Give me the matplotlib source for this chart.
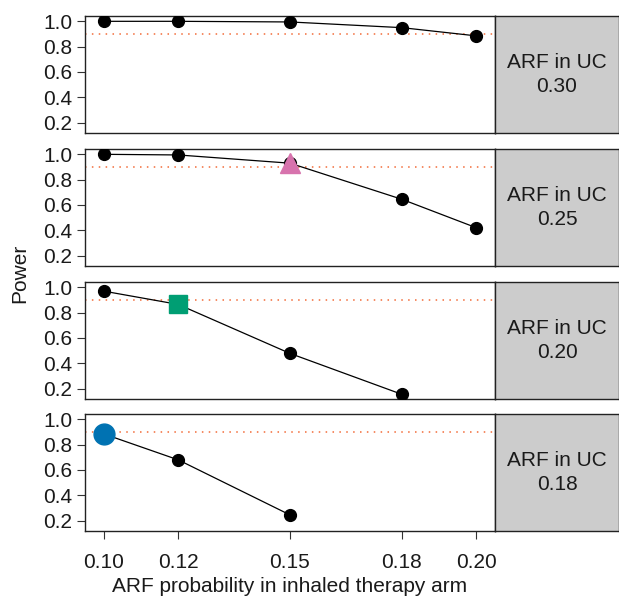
import numpy as np
import matplotlib
matplotlib.use('Agg')
import matplotlib.pyplot as plt

plt.rcParams['font.family'] = ['Liberation Sans', 'DejaVu Sans']

# ARF probability in inhaled therapy arm
x_vals = [0.10, 0.12, 0.15, 0.18, 0.20]
x_labels = ['0.10', '0.12', '0.15', '0.18', '0.20']

# ARF in usual care (one panel each) and estimated power
uc_labels = ['0.30', '0.25', '0.20', '0.18']
power_030 = [1.0, 1.0, 0.995, 0.95, 0.885]
power_025 = [1.0, 0.995, 0.93, 0.645, 0.42]
power_020 = [0.97, 0.865, 0.478, 0.155]
power_018 = [0.885, 0.68, 0.245]
powers = [power_030, power_025, power_020, power_018]

# highlighted point per panel: (index, marker, colour)
highlights = [None, (2, '^', '#D773AD'), (1, 's', '#009E73'), (0, 'o', '#0072B2')]
target = 0.9

W, H = 619, 599
fig = plt.figure(figsize=(W / 100, H / 100), dpi=100)

left, right_data, right_strip = 85, 495, 619
tops = [16, 149, 282, 414]
ph = 117
fs = 15

for i, top in enumerate(tops):
    y0 = (H - top - ph) / H
    ax = fig.add_axes([left / W, y0, (right_data - left) / W, ph / H])
    st = fig.add_axes([right_data / W, y0, (right_strip - right_data) / W, ph / H])

    xs = x_vals[:len(powers[i])]
    ax.axhline(target, color='#F26B38', ls=(0, (1, 3.5)), lw=1.1, zorder=1)
    ax.plot(xs, powers[i], color='black', lw=0.9, zorder=2)
    ax.plot(xs, powers[i], 'o', color='black', ms=8.5, zorder=3)
    if highlights[i] is not None:
        k, m, c = highlights[i]
        ms = {'^': 15, 's': 13, 'o': 15}[m]
        ax.plot(xs[k], powers[i][k], m, color=c, ms=ms, zorder=4)

    ax.set_xlim(0.095, 0.205)
    ax.set_ylim(0.118, 1.042)
    ax.set_yticks([0.2, 0.4, 0.6, 0.8, 1.0])
    ax.set_yticklabels(['0.2', '0.4', '0.6', '0.8', '1.0'], fontsize=fs, color='#1a1a1a')
    ax.tick_params(axis='y', length=6, width=0.8, color='#333333', pad=3)
    ax.set_xticks(x_vals)
    if i == len(tops) - 1:
        ax.set_xticklabels(x_labels, fontsize=fs, color='#1a1a1a')
        ax.tick_params(axis='x', length=6, width=0.8, color='#333333', pad=10)
    else:
        ax.tick_params(axis='x', length=0, labelbottom=False)
    for sp in ax.spines.values():
        sp.set_linewidth(1.0)
        sp.set_color('#222222')

    st.set_facecolor('#CCCCCC')
    st.set_xticks([])
    st.set_yticks([])
    for sp in st.spines.values():
        sp.set_linewidth(1.0)
        sp.set_color('#222222')
    st.text(0.5, 0.5, 'ARF in UC\n' + uc_labels[i], ha='center', va='center',
            fontsize=fs, transform=st.transAxes, linespacing=1.35, color='#1a1a1a')

fig.text(20 / W, 1 - 273 / H, 'Power', rotation=90, ha='center', va='center',
         fontsize=fs, color='#1a1a1a')
fig.text(290 / W, 1 - 586 / H, 'ARF probability in inhaled therapy arm',
         ha='center', va='center', fontsize=fs, color='#1a1a1a')

fig.savefig('out.png', dpi=100)
